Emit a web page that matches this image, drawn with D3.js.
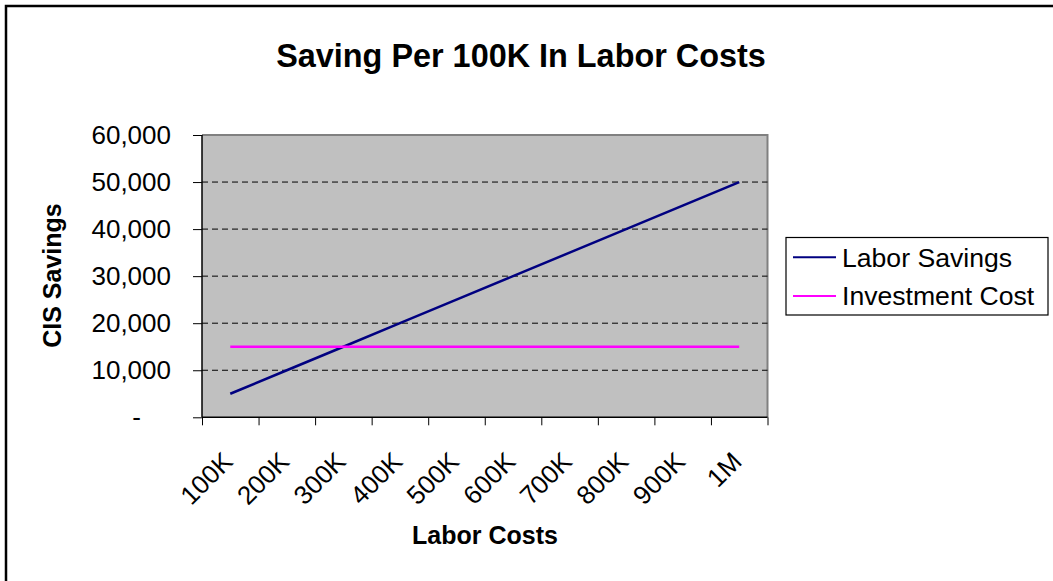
<!DOCTYPE html>
<html><head><meta charset="utf-8">
<script src="https://cdn.jsdelivr.net/npm/d3@7"></script>
<style>body{margin:0;background:#fff}svg{display:block}text{font-family:Arial,"Liberation Sans",sans-serif}</style>
</head><body>
<svg id="c" width="1053" height="581"></svg>
<script>
const categories = ["100K","200K","300K","400K","500K","600K","700K","800K","900K","1M"];
const laborSavings = [5000,10000,15000,20000,25000,30000,35000,40000,45000,50000];
const investmentCost = [15000,15000,15000,15000,15000,15000,15000,15000,15000,15000];
const yTicks = [0,10000,20000,30000,40000,50000,60000];
const seriesNames = ["Labor Savings","Investment Cost"];

const svg = d3.select("#c");
const L=202, R=767.5, T=135, B=417.3;

// outer border
svg.append("path").attr("d","M6,581 L6,6 L1053,6").attr("fill","none").attr("stroke","#000").attr("stroke-width",2.5);

// title
svg.append("text").attr("x",521).attr("y",66.7).attr("text-anchor","middle")
  .attr("font-size",32.4).attr("font-weight","bold").text("Saving Per 100K In Labor Costs");

const x = d3.scaleBand().domain(categories).range([L,R]);
const xb = d3.scaleLinear().domain([0,categories.length]).range([L,R]);
const y = d3.scaleLinear().domain([0,60000]).range([B,T]);

// plot area
svg.append("rect").attr("x",L).attr("y",T).attr("width",R-L).attr("height",B-T).attr("fill","#c0c0c0");
svg.append("path").attr("d",`M${L},${T} L${R},${T} L${R},${B}`).attr("fill","none").attr("stroke","#808080").attr("stroke-width",2);

// grid
svg.append("g").selectAll("line").data(yTicks.filter(v=>v>0&&v<60000)).join("line")
  .attr("x1",L).attr("x2",R).attr("y1",d=>y(d)).attr("y2",d=>y(d))
  .attr("stroke","#000").attr("stroke-width",1).attr("stroke-dasharray","6,4");

// y axis
const ya = svg.append("g").attr("transform",`translate(${L},0)`)
  .call(d3.axisLeft(y).tickValues(yTicks).tickSize(9).tickPadding(22)
    .tickFormat(d=> d===0 ? "-" : d3.format(",")(d)));
ya.select(".domain").attr("stroke","#000").attr("stroke-width",1.5).attr("d",`M0,${T}V${B}`);
ya.selectAll(".tick line").attr("stroke","#000");
ya.selectAll("text").attr("font-size",26).attr("fill","#000").attr("font-family",'Arial,"Liberation Sans",sans-serif');
ya.selectAll(".tick").filter(d=>d===0).select("text").attr("dx",-30);

// x axis boundary ticks
const xa = svg.append("g").attr("transform",`translate(0,${B})`)
  .call(d3.axisBottom(xb).tickValues(d3.range(categories.length+1)).tickSize(8).tickFormat(""));
xa.select(".domain").attr("stroke","#000").attr("stroke-width",1.5).attr("d",`M${L},0H${R}`);
xa.selectAll(".tick line").attr("stroke","#000");

// x labels
const xl = svg.append("g").attr("transform",`translate(0,${B})`)
  .call(d3.axisBottom(x).tickSize(0).tickPadding(0));
xl.select(".domain").remove();
xl.selectAll("text").attr("font-size",26).attr("fill","#000")
  .attr("font-family",'Arial,"Liberation Sans",sans-serif')
  .attr("text-anchor","end").attr("dy",0).attr("y",0)
  .attr("transform",`translate(4,46) rotate(-45)`);

// lines
const line = d3.line().x((d,i)=>x(categories[i])+x.bandwidth()/2).y(d=>y(d));
svg.append("path").datum(laborSavings).attr("d",line).attr("fill","none").attr("stroke","#000080").attr("stroke-width",2.5);
svg.append("path").datum(investmentCost).attr("d",line).attr("fill","none").attr("stroke","#ff00ff").attr("stroke-width",2.5);

// axis titles
svg.append("text").attr("transform","translate(61,275.5) rotate(-90)").attr("text-anchor","middle")
  .attr("font-size",25).attr("font-weight","bold").text("CIS Savings");
svg.append("text").attr("x",485).attr("y",544).attr("text-anchor","middle")
  .attr("font-size",25).attr("font-weight","bold").text("Labor Costs");

// legend
const lg = svg.append("g");
lg.append("rect").attr("x",786).attr("y",237.5).attr("width",262).attr("height",77.5).attr("fill","#fff").attr("stroke","#000").attr("stroke-width",1.2);
const colors = ["#000080","#ff00ff"];
const ly = [257.3,296];
seriesNames.forEach((n,i)=>{
  lg.append("line").attr("x1",793).attr("x2",836).attr("y1",ly[i]).attr("y2",ly[i]).attr("stroke",colors[i]).attr("stroke-width",2);
  lg.append("text").attr("x",842).attr("y",ly[i]+9.4).attr("font-size",26.6).text(n);
});
</script>
</body></html>
